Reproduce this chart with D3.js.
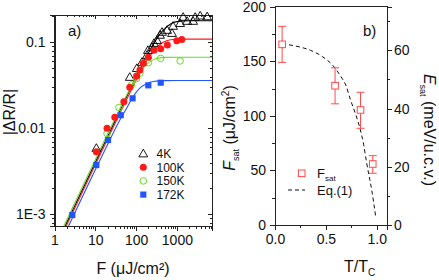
<!DOCTYPE html>
<html><head><meta charset="utf-8">
<script src="https://cdn.jsdelivr.net/npm/d3@7"></script>
<style>
body{margin:0;background:#fff}
svg{display:block}
text{font-family:"Liberation Sans",Arial,sans-serif;fill:#111}
.axis path,.axis line{stroke:#222;stroke-width:1;shape-rendering:crispEdges}
</style>
</head><body>
<svg id="c" width="439" height="280"></svg>
<script>
// ---------- Panel a data ----------
const seriesNames = ["4K","100K","150K","172K"];
const F_4K = [10.6, 70, 104, 139, 185, 195, 245, 274, 325, 385, 432, 574, 760, 805, 1200, 1420, 1780, 2500, 2800, 3720, 5500];
const R_4K = [0.0059, 0.0395, 0.050, 0.059, 0.071, 0.081, 0.088, 0.098, 0.106, 0.122, 0.132, 0.139, 0.128, 0.155, 0.167, 0.197, 0.177, 0.177, 0.197, 0.204, 0.2];
const F_100K = [10.6, 19.4, 30, 50, 70, 103, 124, 150, 199, 274, 401, 583, 995, 1320];
const R_100K = [0.00534, 0.0100, 0.0134, 0.0204, 0.030, 0.0406, 0.0477, 0.057, 0.067, 0.081, 0.084, 0.093, 0.104, 0.108];
const F_150K = [19.4, 38, 77, 103, 124, 199, 401, 1200];
const R_150K = [0.0087, 0.0175, 0.0319, 0.038, 0.0437, 0.058, 0.065, 0.0607];
const F_172K = [2.73, 10.6, 20.5, 42, 82, 199, 401];
const R_172K = [0.00098, 0.00374, 0.0073, 0.0142, 0.0223, 0.0316, 0.0339];

// fitted curves
const fitF_4K = [1.83, 5, 10, 20, 40, 70, 100, 150, 200, 300, 450, 700, 1000, 2000, 7250];
const fitR_4K = [0.00073, 0.0020, 0.0040, 0.0080, 0.016, 0.0278, 0.0393, 0.0578, 0.075, 0.1046, 0.1364, 0.1634, 0.174, 0.178, 0.178];
const fitF_100K = [1.94, 5, 10, 20, 40, 70, 100, 150, 200, 300, 450, 700, 1200, 7250];
const fitR_100K = [0.00073, 0.00188, 0.00376, 0.0075, 0.0149, 0.0258, 0.0362, 0.0518, 0.0652, 0.0845, 0.0996, 0.1072, 0.1089, 0.109];
const fitF_150K = [1.69, 5, 10, 20, 40, 70, 100, 150, 200, 300, 500, 1000, 7250];
const fitR_150K = [0.00073, 0.00216, 0.00432, 0.0086, 0.0169, 0.0284, 0.0381, 0.0501, 0.0576, 0.0642, 0.0668, 0.067, 0.067];
const fitF_172K = [2.21, 5, 10, 20, 40, 60, 84, 120, 180, 264, 500, 1000, 7250];
const fitR_172K = [0.00073, 0.00165, 0.0033, 0.0065, 0.0125, 0.0175, 0.0233, 0.029, 0.033, 0.035, 0.0358, 0.036, 0.036];

const xTicksA = [1, 10, 100, 1000];
const xTickLabelsA = ["1", "10", "100", "1000"];
const yTicksA = [0.001, 0.01, 0.1];
const yTickLabelsA = ["1E-3", "0.01", "0.1"];

// ---------- Panel b data ----------
const tRatio = [0.07, 0.59, 0.84, 0.96];
const Fsat = [165.5, 127.6, 105.4, 55.9];
const FsatHi = [182, 144, 121.6, 63.5];
const FsatLo = [149, 111, 88.6, 47.4];
const eqT = [0.07, 0.2, 0.35, 0.47, 0.57, 0.64, 0.70, 0.74, 0.79, 0.83, 0.87, 0.90, 0.93, 0.95, 0.97, 0.99];
const eqF = [166, 164, 160, 154, 146, 137, 127, 115, 102, 90, 74, 57, 42, 32, 20, 7];
const xTicksB = [0, 0.5, 1.0];
const xTickLabelsB = ["0.0", "0.5", "1.0"];
const yTicksB = [0, 50, 100, 150, 200];
const yTicksB2 = [0, 20, 40, 60];

const colors = {"4K":"#000000","100K":"#ff1a1a","150K":"#66dd22","172K":"#2255ff"};
const redB = "#ff4a4a";

const svg = d3.select("#c");

// ================= Panel a =================
const xA = d3.scaleLog().domain([1, 7250]).range([54.5, 212]);
const yA = d3.scaleLog().domain([7.31e-4, 0.2077]).range([226, 15]);
const gA = svg.append("g");

function minorLog(lo, hi){
  const out=[];
  for(let e=-4;e<=4;e++){for(let m=2;m<=9;m++){const v=m*Math.pow(10,e); if(v>lo&&v<hi) out.push(v);}}
  return out;
}
const xMinorA = minorLog(1, 7250);
const yMinorA = minorLog(7.31e-4, 0.2077);

// frame
gA.append("rect").attr("x",xA.range()[0]).attr("y",yA.range()[1])
  .attr("width",xA.range()[1]-xA.range()[0]).attr("height",yA.range()[0]-yA.range()[1])
  .attr("fill","none").attr("stroke","#222").attr("shape-rendering","crispEdges");

// bottom axis
gA.append("g").attr("class","axis").attr("transform",`translate(0,${yA.range()[0]})`)
  .call(d3.axisBottom(xA).tickValues(xTicksA).tickSize(5).tickPadding(4)
    .tickFormat((d,i)=>xTickLabelsA[i]))
  .call(g=>g.selectAll("text").attr("font-size",14).style("font-family","Liberation Sans, Arial"));
gA.append("g").attr("class","axis").attr("transform",`translate(0,${yA.range()[0]})`)
  .call(d3.axisBottom(xA).tickValues(xMinorA).tickSize(3).tickFormat(""));
// top mirrored (inward)
gA.append("g").attr("class","axis").attr("transform",`translate(0,${yA.range()[1]})`)
  .call(d3.axisBottom(xA).tickValues(xTicksA).tickSize(4).tickFormat(""));
gA.append("g").attr("class","axis").attr("transform",`translate(0,${yA.range()[1]})`)
  .call(d3.axisBottom(xA).tickValues(xMinorA).tickSize(2).tickFormat(""));
// left axis
gA.append("g").attr("class","axis").attr("transform",`translate(${xA.range()[0]},0)`)
  .call(d3.axisLeft(yA).tickValues(yTicksA).tickSize(5).tickPadding(4)
    .tickFormat((d,i)=>yTickLabelsA[i]))
  .call(g=>g.selectAll("text").attr("font-size",14).style("font-family","Liberation Sans, Arial"));
gA.append("g").attr("class","axis").attr("transform",`translate(${xA.range()[0]},0)`)
  .call(d3.axisLeft(yA).tickValues(yMinorA).tickSize(3).tickFormat(""));
// right mirrored (inward)
gA.append("g").attr("class","axis").attr("transform",`translate(${xA.range()[1]},0)`)
  .call(d3.axisLeft(yA).tickValues(yTicksA).tickSize(4).tickFormat(""));
gA.append("g").attr("class","axis").attr("transform",`translate(${xA.range()[1]},0)`)
  .call(d3.axisLeft(yA).tickValues(yMinorA).tickSize(2).tickFormat(""));
gA.selectAll(".axis path.domain").attr("stroke","none");

// clip
svg.append("defs").append("clipPath").attr("id","clipA").append("rect")
  .attr("x",xA.range()[0]).attr("y",yA.range()[1])
  .attr("width",xA.range()[1]-xA.range()[0]).attr("height",yA.range()[0]-yA.range()[1]);

const lineA = d3.line().x(d=>xA(d[0])).y(d=>yA(d[1])).curve(d3.curveMonotoneX);
const fits = [["4K",fitF_4K,fitR_4K],["100K",fitF_100K,fitR_100K],["150K",fitF_150K,fitR_150K],["172K",fitF_172K,fitR_172K]];
fits.forEach(([k,fx,fy])=>{
  gA.append("path").datum(fx.map((f,i)=>[f,fy[i]]))
    .attr("d",lineA).attr("fill","none").attr("stroke",colors[k]).attr("stroke-width",1.1)
    .attr("clip-path","url(#clipA)");
});

const tri = d3.symbol().type(d3.symbolTriangle).size(34);
const sq = d3.symbol().type(d3.symbolSquare).size(38);
function drawMarkers(k, xs, ys){
  const pts = xs.map((f,i)=>[f,ys[i]]);
  const g = gA.append("g");
  if(k==="4K"){
    g.selectAll("path").data(pts).join("path").attr("d",tri)
      .attr("transform",d=>`translate(${xA(d[0])},${yA(d[1])+0.8})`)
      .attr("fill","none").attr("stroke","#000").attr("stroke-width",0.9);
  } else if(k==="100K"){
    g.selectAll("circle").data(pts).join("circle").attr("cx",d=>xA(d[0])).attr("cy",d=>yA(d[1]))
      .attr("r",3.5).attr("fill",colors[k]);
  } else if(k==="150K"){
    g.selectAll("circle").data(pts).join("circle").attr("cx",d=>xA(d[0])).attr("cy",d=>yA(d[1]))
      .attr("r",3.3).attr("fill","none").attr("stroke",colors[k]).attr("stroke-width",1);
  } else {
    g.selectAll("path").data(pts).join("path").attr("d",sq)
      .attr("transform",d=>`translate(${xA(d[0])},${yA(d[1])})`).attr("fill",colors[k]);
  }
}
drawMarkers("4K",F_4K,R_4K);
drawMarkers("150K",F_150K,R_150K);
drawMarkers("100K",F_100K,R_100K);
drawMarkers("172K",F_172K,R_172K);

// legend a
seriesNames.forEach((k,i)=>{
  const ly = 153.5 + i*13.7, lx = 143.3;
  const g = gA.append("g");
  if(k==="4K") g.append("path").attr("d",tri).attr("transform",`translate(${lx},${ly+0.8})`).attr("fill","none").attr("stroke","#000").attr("stroke-width",0.9);
  else if(k==="100K") g.append("circle").attr("cx",lx).attr("cy",ly).attr("r",3.5).attr("fill",colors[k]);
  else if(k==="150K") g.append("circle").attr("cx",lx).attr("cy",ly).attr("r",3.3).attr("fill","none").attr("stroke",colors[k]);
  else g.append("path").attr("d",sq).attr("transform",`translate(${lx},${ly})`).attr("fill",colors[k]);
  g.append("text").attr("x",156.5).attr("y",ly+4.3).attr("font-size",12).text(k);
});

gA.append("text").attr("x",68).attr("y",36).attr("font-size",15).text("a)");
gA.append("text").attr("x",133).attr("y",274).attr("text-anchor","middle").attr("font-size",16).text("F (μJ/cm²)");
gA.append("text").attr("transform","translate(15,112) rotate(-90)").attr("text-anchor","middle")
  .attr("font-size",16).text("|ΔR/R|");

// ================= Panel b =================
const xB = d3.scaleLinear().domain([0,1.1]).range([275,387]);
const yB = d3.scaleLinear().domain([0,200]).range([225,6.7]);
const yB2 = d3.scaleLinear().domain([0,75]).range([225,6.7]);
const gB = svg.append("g");

gB.append("rect").attr("x",xB.range()[0]).attr("y",yB.range()[1])
  .attr("width",xB.range()[1]-xB.range()[0]).attr("height",yB.range()[0]-yB.range()[1])
  .attr("fill","none").attr("stroke","#222").attr("shape-rendering","crispEdges");

gB.append("g").attr("class","axis").attr("transform",`translate(0,${yB.range()[0]})`)
  .call(d3.axisBottom(xB).tickValues(xTicksB).tickSize(5).tickPadding(4).tickFormat((d,i)=>xTickLabelsB[i]))
  .call(g=>g.selectAll("text").attr("font-size",14).style("font-family","Liberation Sans, Arial"));
gB.append("g").attr("class","axis").attr("transform",`translate(0,${yB.range()[0]})`)
  .call(d3.axisBottom(xB).tickValues([0.25,0.75]).tickSize(3).tickFormat(""));
gB.append("g").attr("class","axis").attr("transform",`translate(${xB.range()[0]},0)`)
  .call(d3.axisLeft(yB).tickValues(yTicksB).tickSize(5).tickPadding(4))
  .call(g=>g.selectAll("text").attr("font-size",14).style("font-family","Liberation Sans, Arial"));
gB.append("g").attr("class","axis").attr("transform",`translate(${xB.range()[0]},0)`)
  .call(d3.axisLeft(yB).tickValues([25,75,125,175]).tickSize(3).tickFormat(""));
gB.append("g").attr("class","axis").attr("transform",`translate(${xB.range()[1]},0)`)
  .call(d3.axisRight(yB2).tickValues(yTicksB2).tickSize(5).tickPadding(2))
  .call(g=>g.selectAll("text").attr("font-size",14).style("font-family","Liberation Sans, Arial"));
gB.append("g").attr("class","axis").attr("transform",`translate(${xB.range()[1]},0)`)
  .call(d3.axisRight(yB2).tickValues([10,30,50,70]).tickSize(3).tickFormat(""));
gB.selectAll(".axis path.domain").attr("stroke","none");

// Eq.(1) dashed
const lineB = d3.line().x(d=>xB(d[0])).y(d=>yB(d[1])).curve(d3.curveMonotoneX);
gB.append("path").datum(eqT.map((t,i)=>[t,eqF[i]])).attr("d",lineB)
  .attr("fill","none").attr("stroke","#111").attr("stroke-width",1).attr("stroke-dasharray","4,3");

// error bars + squares
tRatio.forEach((t,i)=>{
  const x = xB(t);
  gB.append("line").attr("x1",x).attr("x2",x).attr("y1",yB(FsatHi[i])).attr("y2",yB(FsatLo[i]))
    .attr("stroke",redB).attr("stroke-width",1);
  [FsatHi[i],FsatLo[i]].forEach(v=>gB.append("line").attr("x1",x-4).attr("x2",x+4)
    .attr("y1",yB(v)).attr("y2",yB(v)).attr("stroke",redB).attr("stroke-width",1));
  gB.append("rect").attr("x",x-3.3).attr("y",yB(Fsat[i])-3.3).attr("width",6.6).attr("height",6.6)
    .attr("fill","#fff").attr("stroke",redB).attr("stroke-width",1);
});

// legend b
gB.append("rect").attr("x",298.4).attr("y",170).attr("width",6.6).attr("height",6.6)
  .attr("fill","#fff").attr("stroke",redB);
const lt = gB.append("text").attr("x",317).attr("y",178).attr("font-size",13);
lt.append("tspan").text("F");
lt.append("tspan").attr("font-size",8).attr("dy",3).text("sat");
gB.append("line").attr("x1",288).attr("x2",305).attr("y1",190).attr("y2",190)
  .attr("stroke","#111").attr("stroke-dasharray","4,3");
gB.append("text").attr("x",317).attr("y",195).attr("font-size",13).text("Eq.(1)");

gB.append("text").attr("x",363).attr("y",36).attr("font-size",15).text("b)");
const tt = gB.append("text").attr("x",344).attr("y",272).attr("font-size",16);
tt.append("tspan").text("T/T");
tt.append("tspan").attr("font-size",10).attr("dy",4).text("C");

const yl = gB.append("text").attr("transform","translate(235,128) rotate(-90)").attr("text-anchor","middle").attr("font-size",16);
yl.append("tspan").attr("font-style","italic").text("F");
yl.append("tspan").attr("font-size",9).attr("dy",4).text("sat");
yl.append("tspan").attr("dy",-4).text(" (μJ/cm");
yl.append("tspan").attr("font-size",10).attr("dy",-6).text("2");
yl.append("tspan").attr("dy",6).text(")");

const yr = gB.append("text").attr("transform","translate(424,130) rotate(90)").attr("text-anchor","middle").attr("font-size",16);
yr.append("tspan").attr("font-style","italic").text("E");
yr.append("tspan").attr("font-size",9).attr("dy",4).text("sat");
yr.append("tspan").attr("dy",-4).text(" (meV/u.c.v.)");
</script>
</body></html>
